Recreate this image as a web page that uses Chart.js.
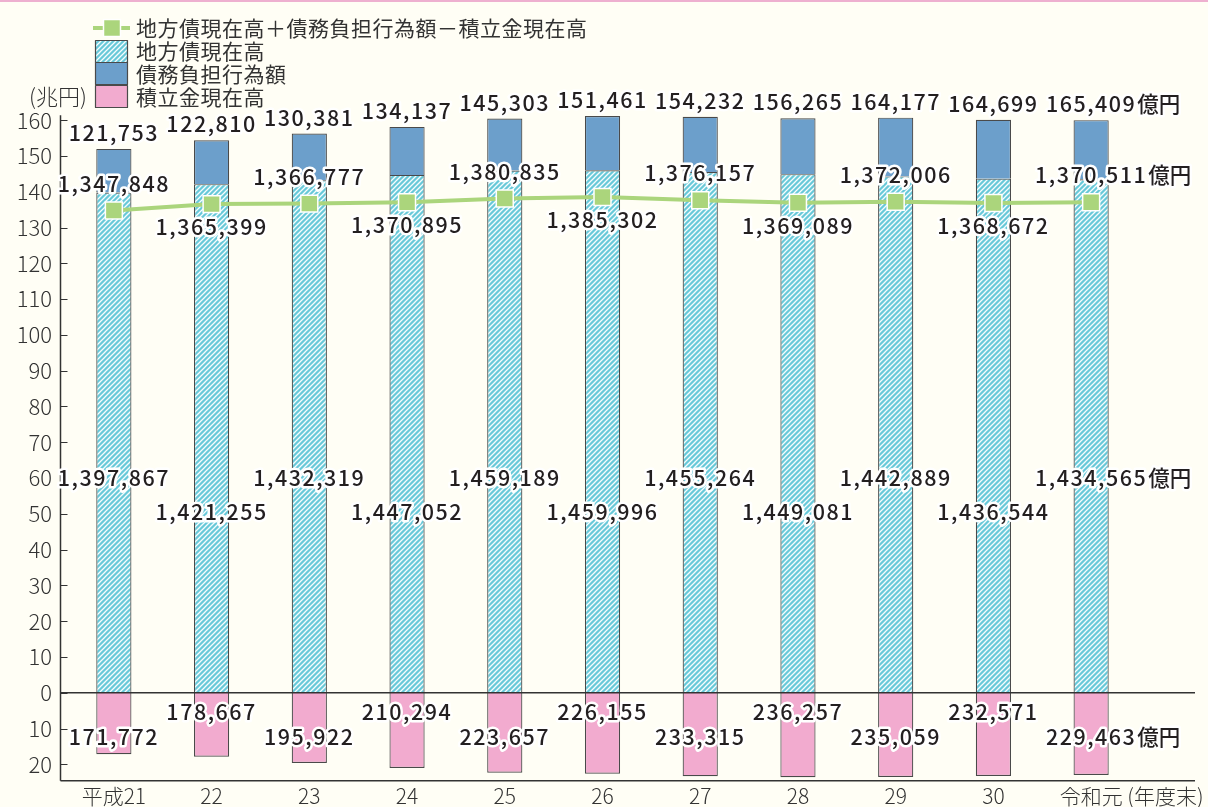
<!DOCTYPE html>
<html lang="ja">
<head>
<meta charset="utf-8">
<script src="https://cdn.jsdelivr.net/npm/chart.js@4/dist/chart.umd.min.js"></script>
<style>
    html, body { margin: 0; padding: 0; background: #fffef5; }
    #wrap { width: 1208px; height: 807px; position: relative; border-top: 2px solid #eeb0d0; box-sizing: border-box; }
</style>
</head>
<body>
<div id="wrap"><canvas id="chart"></canvas></div>
<script>
    // 単位：億円
    const years = ['平成21', '22', '23', '24', '25', '26', '27', '28', '29', '30', '令和元'];
    const chihousai = [1397867, 1421255, 1432319, 1447052, 1459189, 1459996, 1455264, 1449081, 1442889, 1436544, 1434565];
    const saimuFutan = [121753, 122810, 130381, 134137, 145303, 151461, 154232, 156265, 164177, 164699, 165409];
    const tsumitatekin = [171772, 178667, 195922, 210294, 223657, 226155, 233315, 236257, 235059, 232571, 229463];
    const netTotal = [1347848, 1365399, 1366777, 1370895, 1380835, 1385302, 1376157, 1369089, 1372006, 1368672, 1370511];
    const yTicks = [-20, -10, 0, 10, 20, 30, 40, 50, 60, 70, 80, 90, 100, 110, 120, 130, 140, 150, 160];

    const toCho = v => v / 10000;
    const fmt = v => v.toLocaleString('en-US');

    const CYAN = '#68c9d9';
    const BLUE = '#6c9fcb';
    const PINK = '#f2abcf';
    const GREEN = '#abd57c';
    const EDGE = '#4a4a4a';
    const TXT = '#231f20';
    const FONT = '"Noto Sans CJK JP", "Noto Sans", sans-serif';
    const AXIS_X = 60.5;
    const AXIS_END = 1195;

    // 斜線パターン
    function makeHatch() {
        const s = 5;
        const c = document.createElement('canvas');
        c.width = s; c.height = s;
        const g = c.getContext('2d');
        g.fillStyle = CYAN;
        g.fillRect(0, 0, s, s);
        g.strokeStyle = 'rgba(255,255,255,0.95)';
        g.lineWidth = 1.3;
        g.beginPath();
        g.moveTo(-1, 1); g.lineTo(1, -1);
        g.moveTo(0, s); g.lineTo(s, 0);
        g.moveTo(s - 1, s + 1); g.lineTo(s + 1, s - 1);
        g.stroke();
        return document.getElementById('chart').getContext('2d').createPattern(c, 'repeat');
    }
    const hatch = makeHatch();

    function outlined(ctx, text, x, y, align) {
        ctx.textAlign = align;
        ctx.lineWidth = 5;
        ctx.strokeStyle = '#ffffff';
        ctx.lineJoin = 'round';
        ctx.strokeText(text, x, y);
        ctx.fillStyle = TXT;
        ctx.fillText(text, x, y);
    }

    function drawLabel(ctx, text, cx, cy, suffix) {
        ctx.font = '500 21.5px ' + FONT;
        ctx.letterSpacing = '1.5px';
        ctx.textBaseline = 'middle';
        outlined(ctx, text, cx, cy, 'center');
        if (suffix) {
            const w = ctx.measureText(text).width;
            ctx.letterSpacing = '0px';
            outlined(ctx, suffix, cx + w / 2 + 1, cy, 'left');
        }
        ctx.letterSpacing = '0px';
    }

    const textPlugin = {
        id: 'textPlugin',
        afterDatasetsDraw(chart) {
            const ctx = chart.ctx;
            const xs = chart.scales.x, ys = chart.scales.y;
            const area = chart.chartArea;
            const zeroY = ys.getPixelForValue(0);
            ctx.save();

            // 軸線・ゼロ線
            ctx.strokeStyle = '#333';
            ctx.lineWidth = 1.5;
            ctx.beginPath();
            ctx.moveTo(AXIS_X, zeroY); ctx.lineTo(AXIS_END, zeroY);
            ctx.moveTo(AXIS_X, area.bottom); ctx.lineTo(AXIS_END, area.bottom);
            ctx.moveTo(AXIS_X, ys.getPixelForValue(160) - 5); ctx.lineTo(AXIS_X, area.bottom);
            ctx.stroke();
            ctx.lineWidth = 1.2;
            ctx.beginPath();
            yTicks.forEach(v => {
                const ty = Math.round(ys.getPixelForValue(v)) + 0.5;
                ctx.moveTo(AXIS_X, ty); ctx.lineTo(AXIS_X + 7, ty);
            });
            ctx.stroke();

            const last = years.length - 1;
            years.forEach((yr, i) => {
                const cx = xs.getPixelForValue(i);
                const sfx = i === last ? '億円' : '';
                const topY = ys.getPixelForValue(toCho(chihousai[i] + saimuFutan[i]));
                drawLabel(ctx, fmt(saimuFutan[i]), cx, topY - 16, sfx);

                const ly = ys.getPixelForValue(toCho(netTotal[i]));
                drawLabel(ctx, fmt(netTotal[i]), cx, i % 2 === 0 ? ly - 27 : ly + 23, sfx);

                const dy = ys.getPixelForValue(i % 2 === 0 ? 60 : 50.6);
                drawLabel(ctx, fmt(chihousai[i]), cx, dy, sfx);

                drawLabel(ctx, fmt(tsumitatekin[i]), cx, i % 2 === 0 ? zeroY + 44 : zeroY + 19, sfx);

                // 年度ラベル
                ctx.font = '300 21px ' + FONT;
                ctx.fillStyle = '#333';
                ctx.textBaseline = 'middle';
                ctx.textAlign = 'center';
                ctx.fillText(yr, cx, area.bottom + 15);
                if (i === last) {
                    const w = ctx.measureText(yr).width;
                    ctx.textAlign = 'left';
                    ctx.fillText(' (年度末)', cx + w / 2, area.bottom + 15);
                }
            });

            // 単位
            ctx.font = '300 22px ' + FONT;
            ctx.fillStyle = '#333';
            ctx.textAlign = 'left';
            ctx.fillText('(兆円)', 29, 95);

            // 凡例
            ctx.strokeStyle = GREEN;
            ctx.lineWidth = 4;
            ctx.beginPath();
            ctx.moveTo(93, 26); ctx.lineTo(130, 26);
            ctx.stroke();
            ctx.fillStyle = GREEN;
            ctx.fillRect(103.5, 17.5, 17, 17);
            ctx.strokeStyle = '#fff';
            ctx.lineWidth = 1.5;
            ctx.strokeRect(103.5, 17.5, 17, 17);

            const boxes = [[hatch, 38], [BLUE, 60], [PINK, 83]];
            boxes.forEach(([fill, top]) => {
                ctx.fillStyle = fill;
                ctx.fillRect(95, top, 32, 22);
                ctx.strokeStyle = EDGE;
                ctx.lineWidth = 1.2;
                ctx.strokeRect(95.5, top + 0.5, 32, 22);
            });
            ctx.font = '400 21px ' + FONT;
            ctx.fillStyle = '#333';
            ctx.textAlign = 'left';
            ctx.letterSpacing = '0.5px';
            ctx.fillText('地方債現在高＋債務負担行為額－積立金現在高', 136, 26);
            ctx.fillText('地方債現在高', 136, 49);
            ctx.fillText('債務負担行為額', 136, 72);
            ctx.fillText('積立金現在高', 136, 95);
            ctx.restore();
        }
    };

    new Chart(document.getElementById('chart'), {
        data: {
            labels: years,
            datasets: [
                {
                    type: 'line',
                    label: '地方債現在高＋債務負担行為額－積立金現在高',
                    data: netTotal.map(toCho),
                    borderColor: GREEN,
                    borderWidth: 4,
                    pointStyle: 'rect',
                    pointRadius: 12,
                    pointBackgroundColor: GREEN,
                    pointBorderColor: '#ffffff',
                    pointBorderWidth: 1.5,
                    order: 0,
                    stack: 'line'
                },
                {
                    type: 'bar',
                    label: '地方債現在高',
                    data: chihousai.map(toCho),
                    backgroundColor: hatch,
                    borderColor: EDGE,
                    borderWidth: 1.2,
                    order: 1,
                    stack: 's'
                },
                {
                    type: 'bar',
                    label: '債務負担行為額',
                    data: saimuFutan.map(toCho),
                    backgroundColor: BLUE,
                    borderColor: EDGE,
                    borderWidth: 1.2,
                    order: 1,
                    stack: 's'
                },
                {
                    type: 'bar',
                    label: '積立金現在高',
                    data: tsumitatekin.map(v => -toCho(v)),
                    backgroundColor: PINK,
                    borderColor: EDGE,
                    borderWidth: 1.2,
                    order: 1,
                    stack: 's'
                }
            ]
        },
        options: {
            responsive: true,
            maintainAspectRatio: false,
            animation: false,
            layout: { padding: { top: 111, right: 68, bottom: 26, left: 0 } },
            datasets: { bar: { barPercentage: 0.36, categoryPercentage: 1 } },
            plugins: { legend: { display: false }, tooltip: { enabled: false } },
            scales: {
                x: {
                    stacked: true,
                    offset: true,
                    ticks: { display: false },
                    grid: { display: false },
                    border: { display: false },
                    afterFit: s => { s.height = 0; }
                },
                y: {
                    stacked: true,
                    min: -24.6,
                    max: 162,
                    afterBuildTicks: s => { s.ticks = yTicks.map(v => ({ value: v })); },
                    ticks: {
                        callback: v => Math.abs(v),
                        font: { family: FONT, size: 22, weight: 300 },
                        color: '#333',
                        padding: 13
                    },
                    grid: { display: false, drawTicks: false, tickLength: 0 },
                    border: { display: false },
                    afterFit: s => { s.width = 65; }
                }
            }
        },
        plugins: [textPlugin]
    });
</script>
</body>
</html>
